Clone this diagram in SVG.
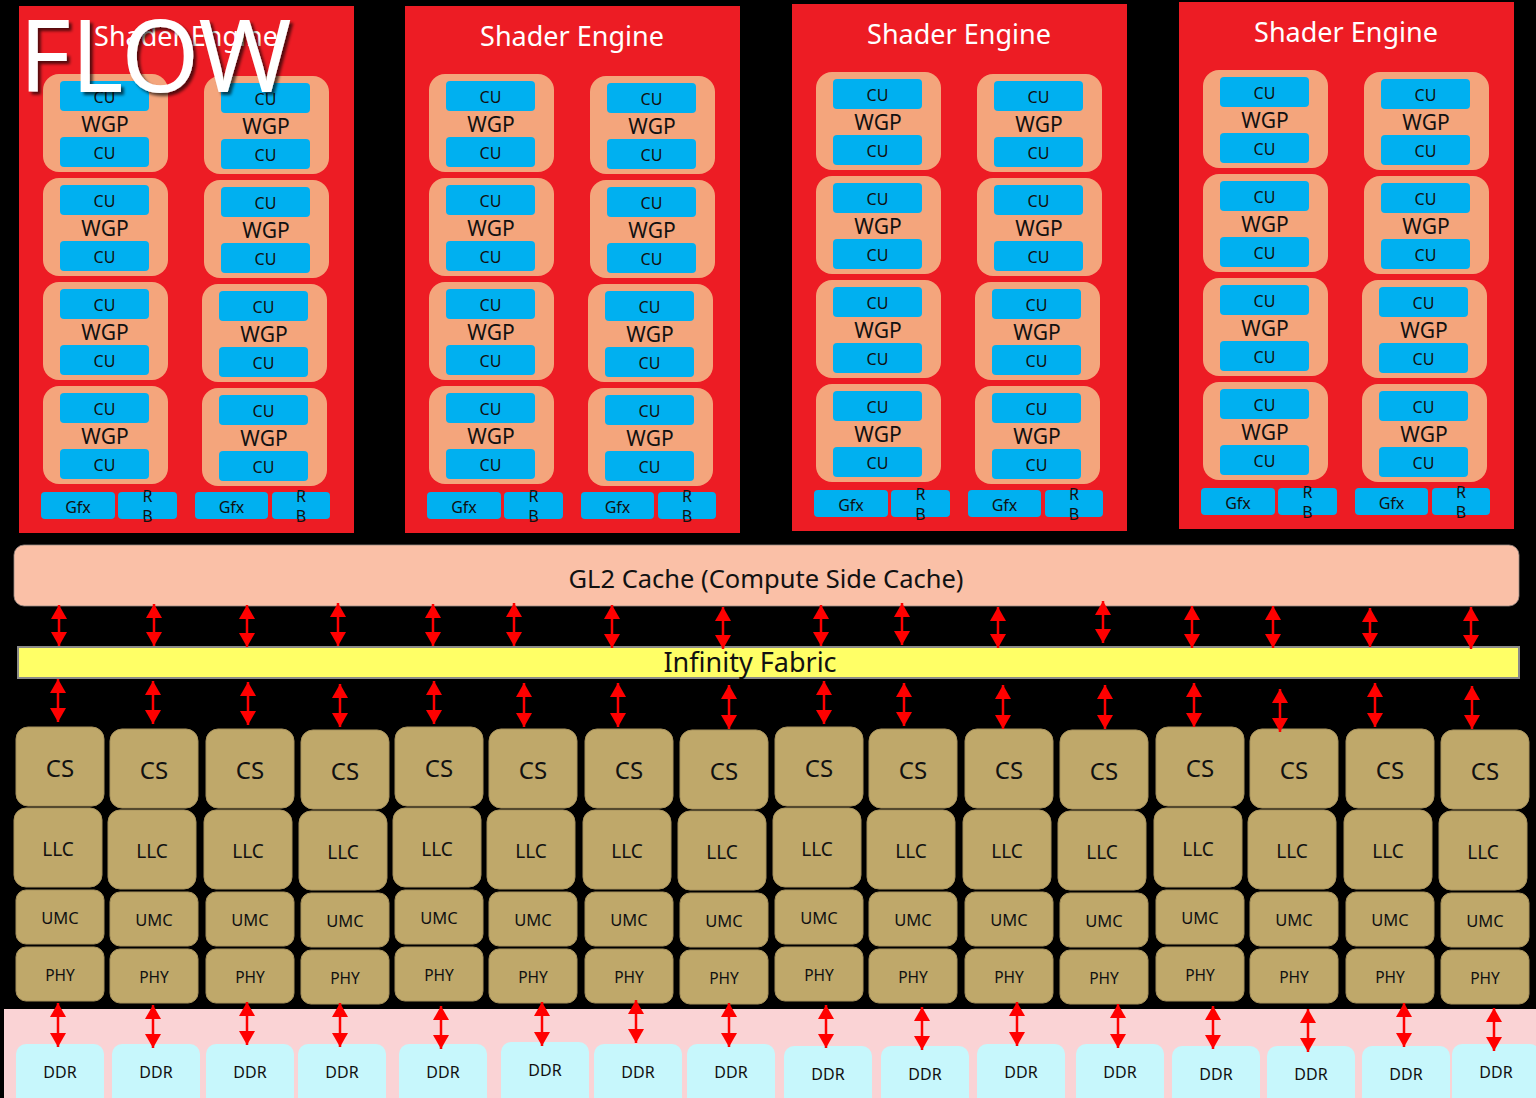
<svg xmlns="http://www.w3.org/2000/svg" width="1536" height="1098" viewBox="0 0 1536 1098">
<style>
text{font-family:"Noto Sans","DejaVu Sans",sans-serif;text-anchor:middle;fill:#111}
.se{fill:#ED1C24}
.wgp{fill:#F4A57C}
.cu{fill:#00B0F0}
.tan{fill:#BFA86A;stroke:#a8925c;stroke-width:1}
.ddr{fill:#C7F7FC}
.title{fill:#fff;font-size:27px}
.wt{font-size:21px}
.ct{font-size:16px}
.cs{font-size:24px}
.llc{font-size:19px}
.umc{font-size:16.5px}
.phy{font-size:15.5px}
.arr{stroke:#FF0000;stroke-width:2.5;fill:none;marker-start:url(#ah);marker-end:url(#ah)}
</style>
<defs>
<marker id="ah" viewBox="0 0 14 16" refX="14" refY="8" markerWidth="14" markerHeight="16" orient="auto-start-reverse" markerUnits="userSpaceOnUse"><path d="M0,0 L14,8 L0,16 Z" fill="#FF0000"/></marker>
<filter id="sh" x="-10%" y="-10%" width="130%" height="140%"><feDropShadow dx="3" dy="3" stdDeviation="1.5" flood-color="#000" flood-opacity="0.65"/></filter>
</defs>
<rect width="1536" height="1098" fill="#000"/>

<!-- Shader Engine 1 -->
<g id="se1">
<rect class="se" x="19" y="6" width="335" height="527"/>
<text class="title" x="186" y="46">Shader Engine</text>
<g id="se1-w1" transform="translate(43,74)"><rect class="wgp" width="125" height="98" rx="16"/><rect class="cu" x="17" y="7" width="89" height="30" rx="4"/><text class="ct" x="61.5" y="29">CU</text><text class="wt" x="62" y="58">WGP</text><rect class="cu" x="17" y="63" width="89" height="30" rx="4"/><text class="ct" x="61.5" y="85">CU</text></g>
<g id="se1-w2" transform="translate(43,178)"><rect class="wgp" width="125" height="98" rx="16"/><rect class="cu" x="17" y="7" width="89" height="30" rx="4"/><text class="ct" x="61.5" y="29">CU</text><text class="wt" x="62" y="58">WGP</text><rect class="cu" x="17" y="63" width="89" height="30" rx="4"/><text class="ct" x="61.5" y="85">CU</text></g>
<g id="se1-w3" transform="translate(43,282)"><rect class="wgp" width="125" height="98" rx="16"/><rect class="cu" x="17" y="7" width="89" height="30" rx="4"/><text class="ct" x="61.5" y="29">CU</text><text class="wt" x="62" y="58">WGP</text><rect class="cu" x="17" y="63" width="89" height="30" rx="4"/><text class="ct" x="61.5" y="85">CU</text></g>
<g id="se1-w4" transform="translate(43,386)"><rect class="wgp" width="125" height="98" rx="16"/><rect class="cu" x="17" y="7" width="89" height="30" rx="4"/><text class="ct" x="61.5" y="29">CU</text><text class="wt" x="62" y="58">WGP</text><rect class="cu" x="17" y="63" width="89" height="30" rx="4"/><text class="ct" x="61.5" y="85">CU</text></g>
<g id="se1-w5" transform="translate(204,76)"><rect class="wgp" width="125" height="98" rx="16"/><rect class="cu" x="17" y="7" width="89" height="30" rx="4"/><text class="ct" x="61.5" y="29">CU</text><text class="wt" x="62" y="58">WGP</text><rect class="cu" x="17" y="63" width="89" height="30" rx="4"/><text class="ct" x="61.5" y="85">CU</text></g>
<g id="se1-w6" transform="translate(204,180)"><rect class="wgp" width="125" height="98" rx="16"/><rect class="cu" x="17" y="7" width="89" height="30" rx="4"/><text class="ct" x="61.5" y="29">CU</text><text class="wt" x="62" y="58">WGP</text><rect class="cu" x="17" y="63" width="89" height="30" rx="4"/><text class="ct" x="61.5" y="85">CU</text></g>
<g id="se1-w7" transform="translate(202,284)"><rect class="wgp" width="125" height="98" rx="16"/><rect class="cu" x="17" y="7" width="89" height="30" rx="4"/><text class="ct" x="61.5" y="29">CU</text><text class="wt" x="62" y="58">WGP</text><rect class="cu" x="17" y="63" width="89" height="30" rx="4"/><text class="ct" x="61.5" y="85">CU</text></g>
<g id="se1-w8" transform="translate(202,388)"><rect class="wgp" width="125" height="98" rx="16"/><rect class="cu" x="17" y="7" width="89" height="30" rx="4"/><text class="ct" x="61.5" y="29">CU</text><text class="wt" x="62" y="58">WGP</text><rect class="cu" x="17" y="63" width="89" height="30" rx="4"/><text class="ct" x="61.5" y="85">CU</text></g>
<g id="se1-gfx1"><rect class="cu" x="41" y="492" width="74" height="27" rx="4"/><text class="ct" x="78" y="513">Gfx</text></g>
<g id="se1-rb1"><rect class="cu" x="118" y="492" width="59" height="27" rx="4"/><text class="ct" x="147.5" y="502">R</text><text class="ct" x="147.5" y="522">B</text></g>
<g id="se1-gfx2"><rect class="cu" x="195" y="492" width="73" height="27" rx="4"/><text class="ct" x="231.5" y="513">Gfx</text></g>
<g id="se1-rb2"><rect class="cu" x="272" y="492" width="58" height="27" rx="4"/><text class="ct" x="301" y="502">R</text><text class="ct" x="301" y="522">B</text></g>
</g>

<!-- Shader Engine 2 -->
<g id="se2">
<rect class="se" x="405" y="6" width="335" height="527"/>
<text class="title" x="572" y="46">Shader Engine</text>
<g id="se2-w1" transform="translate(429,74)"><rect class="wgp" width="125" height="98" rx="16"/><rect class="cu" x="17" y="7" width="89" height="30" rx="4"/><text class="ct" x="61.5" y="29">CU</text><text class="wt" x="62" y="58">WGP</text><rect class="cu" x="17" y="63" width="89" height="30" rx="4"/><text class="ct" x="61.5" y="85">CU</text></g>
<g id="se2-w2" transform="translate(429,178)"><rect class="wgp" width="125" height="98" rx="16"/><rect class="cu" x="17" y="7" width="89" height="30" rx="4"/><text class="ct" x="61.5" y="29">CU</text><text class="wt" x="62" y="58">WGP</text><rect class="cu" x="17" y="63" width="89" height="30" rx="4"/><text class="ct" x="61.5" y="85">CU</text></g>
<g id="se2-w3" transform="translate(429,282)"><rect class="wgp" width="125" height="98" rx="16"/><rect class="cu" x="17" y="7" width="89" height="30" rx="4"/><text class="ct" x="61.5" y="29">CU</text><text class="wt" x="62" y="58">WGP</text><rect class="cu" x="17" y="63" width="89" height="30" rx="4"/><text class="ct" x="61.5" y="85">CU</text></g>
<g id="se2-w4" transform="translate(429,386)"><rect class="wgp" width="125" height="98" rx="16"/><rect class="cu" x="17" y="7" width="89" height="30" rx="4"/><text class="ct" x="61.5" y="29">CU</text><text class="wt" x="62" y="58">WGP</text><rect class="cu" x="17" y="63" width="89" height="30" rx="4"/><text class="ct" x="61.5" y="85">CU</text></g>
<g id="se2-w5" transform="translate(590,76)"><rect class="wgp" width="125" height="98" rx="16"/><rect class="cu" x="17" y="7" width="89" height="30" rx="4"/><text class="ct" x="61.5" y="29">CU</text><text class="wt" x="62" y="58">WGP</text><rect class="cu" x="17" y="63" width="89" height="30" rx="4"/><text class="ct" x="61.5" y="85">CU</text></g>
<g id="se2-w6" transform="translate(590,180)"><rect class="wgp" width="125" height="98" rx="16"/><rect class="cu" x="17" y="7" width="89" height="30" rx="4"/><text class="ct" x="61.5" y="29">CU</text><text class="wt" x="62" y="58">WGP</text><rect class="cu" x="17" y="63" width="89" height="30" rx="4"/><text class="ct" x="61.5" y="85">CU</text></g>
<g id="se2-w7" transform="translate(588,284)"><rect class="wgp" width="125" height="98" rx="16"/><rect class="cu" x="17" y="7" width="89" height="30" rx="4"/><text class="ct" x="61.5" y="29">CU</text><text class="wt" x="62" y="58">WGP</text><rect class="cu" x="17" y="63" width="89" height="30" rx="4"/><text class="ct" x="61.5" y="85">CU</text></g>
<g id="se2-w8" transform="translate(588,388)"><rect class="wgp" width="125" height="98" rx="16"/><rect class="cu" x="17" y="7" width="89" height="30" rx="4"/><text class="ct" x="61.5" y="29">CU</text><text class="wt" x="62" y="58">WGP</text><rect class="cu" x="17" y="63" width="89" height="30" rx="4"/><text class="ct" x="61.5" y="85">CU</text></g>
<g id="se2-gfx1"><rect class="cu" x="427" y="492" width="74" height="27" rx="4"/><text class="ct" x="464" y="513">Gfx</text></g>
<g id="se2-rb1"><rect class="cu" x="504" y="492" width="59" height="27" rx="4"/><text class="ct" x="533.5" y="502">R</text><text class="ct" x="533.5" y="522">B</text></g>
<g id="se2-gfx2"><rect class="cu" x="581" y="492" width="73" height="27" rx="4"/><text class="ct" x="617.5" y="513">Gfx</text></g>
<g id="se2-rb2"><rect class="cu" x="658" y="492" width="58" height="27" rx="4"/><text class="ct" x="687" y="502">R</text><text class="ct" x="687" y="522">B</text></g>
</g>

<!-- Shader Engine 3 -->
<g id="se3">
<rect class="se" x="792" y="4" width="335" height="527"/>
<text class="title" x="959" y="44">Shader Engine</text>
<g id="se3-w1" transform="translate(816,72)"><rect class="wgp" width="125" height="98" rx="16"/><rect class="cu" x="17" y="7" width="89" height="30" rx="4"/><text class="ct" x="61.5" y="29">CU</text><text class="wt" x="62" y="58">WGP</text><rect class="cu" x="17" y="63" width="89" height="30" rx="4"/><text class="ct" x="61.5" y="85">CU</text></g>
<g id="se3-w2" transform="translate(816,176)"><rect class="wgp" width="125" height="98" rx="16"/><rect class="cu" x="17" y="7" width="89" height="30" rx="4"/><text class="ct" x="61.5" y="29">CU</text><text class="wt" x="62" y="58">WGP</text><rect class="cu" x="17" y="63" width="89" height="30" rx="4"/><text class="ct" x="61.5" y="85">CU</text></g>
<g id="se3-w3" transform="translate(816,280)"><rect class="wgp" width="125" height="98" rx="16"/><rect class="cu" x="17" y="7" width="89" height="30" rx="4"/><text class="ct" x="61.5" y="29">CU</text><text class="wt" x="62" y="58">WGP</text><rect class="cu" x="17" y="63" width="89" height="30" rx="4"/><text class="ct" x="61.5" y="85">CU</text></g>
<g id="se3-w4" transform="translate(816,384)"><rect class="wgp" width="125" height="98" rx="16"/><rect class="cu" x="17" y="7" width="89" height="30" rx="4"/><text class="ct" x="61.5" y="29">CU</text><text class="wt" x="62" y="58">WGP</text><rect class="cu" x="17" y="63" width="89" height="30" rx="4"/><text class="ct" x="61.5" y="85">CU</text></g>
<g id="se3-w5" transform="translate(977,74)"><rect class="wgp" width="125" height="98" rx="16"/><rect class="cu" x="17" y="7" width="89" height="30" rx="4"/><text class="ct" x="61.5" y="29">CU</text><text class="wt" x="62" y="58">WGP</text><rect class="cu" x="17" y="63" width="89" height="30" rx="4"/><text class="ct" x="61.5" y="85">CU</text></g>
<g id="se3-w6" transform="translate(977,178)"><rect class="wgp" width="125" height="98" rx="16"/><rect class="cu" x="17" y="7" width="89" height="30" rx="4"/><text class="ct" x="61.5" y="29">CU</text><text class="wt" x="62" y="58">WGP</text><rect class="cu" x="17" y="63" width="89" height="30" rx="4"/><text class="ct" x="61.5" y="85">CU</text></g>
<g id="se3-w7" transform="translate(975,282)"><rect class="wgp" width="125" height="98" rx="16"/><rect class="cu" x="17" y="7" width="89" height="30" rx="4"/><text class="ct" x="61.5" y="29">CU</text><text class="wt" x="62" y="58">WGP</text><rect class="cu" x="17" y="63" width="89" height="30" rx="4"/><text class="ct" x="61.5" y="85">CU</text></g>
<g id="se3-w8" transform="translate(975,386)"><rect class="wgp" width="125" height="98" rx="16"/><rect class="cu" x="17" y="7" width="89" height="30" rx="4"/><text class="ct" x="61.5" y="29">CU</text><text class="wt" x="62" y="58">WGP</text><rect class="cu" x="17" y="63" width="89" height="30" rx="4"/><text class="ct" x="61.5" y="85">CU</text></g>
<g id="se3-gfx1"><rect class="cu" x="814" y="490" width="74" height="27" rx="4"/><text class="ct" x="851" y="511">Gfx</text></g>
<g id="se3-rb1"><rect class="cu" x="891" y="490" width="59" height="27" rx="4"/><text class="ct" x="920.5" y="500">R</text><text class="ct" x="920.5" y="520">B</text></g>
<g id="se3-gfx2"><rect class="cu" x="968" y="490" width="73" height="27" rx="4"/><text class="ct" x="1004.5" y="511">Gfx</text></g>
<g id="se3-rb2"><rect class="cu" x="1045" y="490" width="58" height="27" rx="4"/><text class="ct" x="1074" y="500">R</text><text class="ct" x="1074" y="520">B</text></g>
</g>

<!-- Shader Engine 4 -->
<g id="se4">
<rect class="se" x="1179" y="2" width="335" height="527"/>
<text class="title" x="1346" y="42">Shader Engine</text>
<g id="se4-w1" transform="translate(1203,70)"><rect class="wgp" width="125" height="98" rx="16"/><rect class="cu" x="17" y="7" width="89" height="30" rx="4"/><text class="ct" x="61.5" y="29">CU</text><text class="wt" x="62" y="58">WGP</text><rect class="cu" x="17" y="63" width="89" height="30" rx="4"/><text class="ct" x="61.5" y="85">CU</text></g>
<g id="se4-w2" transform="translate(1203,174)"><rect class="wgp" width="125" height="98" rx="16"/><rect class="cu" x="17" y="7" width="89" height="30" rx="4"/><text class="ct" x="61.5" y="29">CU</text><text class="wt" x="62" y="58">WGP</text><rect class="cu" x="17" y="63" width="89" height="30" rx="4"/><text class="ct" x="61.5" y="85">CU</text></g>
<g id="se4-w3" transform="translate(1203,278)"><rect class="wgp" width="125" height="98" rx="16"/><rect class="cu" x="17" y="7" width="89" height="30" rx="4"/><text class="ct" x="61.5" y="29">CU</text><text class="wt" x="62" y="58">WGP</text><rect class="cu" x="17" y="63" width="89" height="30" rx="4"/><text class="ct" x="61.5" y="85">CU</text></g>
<g id="se4-w4" transform="translate(1203,382)"><rect class="wgp" width="125" height="98" rx="16"/><rect class="cu" x="17" y="7" width="89" height="30" rx="4"/><text class="ct" x="61.5" y="29">CU</text><text class="wt" x="62" y="58">WGP</text><rect class="cu" x="17" y="63" width="89" height="30" rx="4"/><text class="ct" x="61.5" y="85">CU</text></g>
<g id="se4-w5" transform="translate(1364,72)"><rect class="wgp" width="125" height="98" rx="16"/><rect class="cu" x="17" y="7" width="89" height="30" rx="4"/><text class="ct" x="61.5" y="29">CU</text><text class="wt" x="62" y="58">WGP</text><rect class="cu" x="17" y="63" width="89" height="30" rx="4"/><text class="ct" x="61.5" y="85">CU</text></g>
<g id="se4-w6" transform="translate(1364,176)"><rect class="wgp" width="125" height="98" rx="16"/><rect class="cu" x="17" y="7" width="89" height="30" rx="4"/><text class="ct" x="61.5" y="29">CU</text><text class="wt" x="62" y="58">WGP</text><rect class="cu" x="17" y="63" width="89" height="30" rx="4"/><text class="ct" x="61.5" y="85">CU</text></g>
<g id="se4-w7" transform="translate(1362,280)"><rect class="wgp" width="125" height="98" rx="16"/><rect class="cu" x="17" y="7" width="89" height="30" rx="4"/><text class="ct" x="61.5" y="29">CU</text><text class="wt" x="62" y="58">WGP</text><rect class="cu" x="17" y="63" width="89" height="30" rx="4"/><text class="ct" x="61.5" y="85">CU</text></g>
<g id="se4-w8" transform="translate(1362,384)"><rect class="wgp" width="125" height="98" rx="16"/><rect class="cu" x="17" y="7" width="89" height="30" rx="4"/><text class="ct" x="61.5" y="29">CU</text><text class="wt" x="62" y="58">WGP</text><rect class="cu" x="17" y="63" width="89" height="30" rx="4"/><text class="ct" x="61.5" y="85">CU</text></g>
<g id="se4-gfx1"><rect class="cu" x="1201" y="488" width="74" height="27" rx="4"/><text class="ct" x="1238" y="509">Gfx</text></g>
<g id="se4-rb1"><rect class="cu" x="1278" y="488" width="59" height="27" rx="4"/><text class="ct" x="1307.5" y="498">R</text><text class="ct" x="1307.5" y="518">B</text></g>
<g id="se4-gfx2"><rect class="cu" x="1355" y="488" width="73" height="27" rx="4"/><text class="ct" x="1391.5" y="509">Gfx</text></g>
<g id="se4-rb2"><rect class="cu" x="1432" y="488" width="58" height="27" rx="4"/><text class="ct" x="1461" y="498">R</text><text class="ct" x="1461" y="518">B</text></g>
</g>

<!-- GL2 cache and Infinity Fabric -->
<g id="gl2"><rect x="14" y="545" width="1505" height="61" rx="10" fill="#FAC0A7" stroke="#9a8a84" stroke-width="0.8"/><text x="766" y="588" style="font-size:25.5px">GL2 Cache (Compute Side Cache)</text></g>
<g id="infinity-fabric"><rect x="18" y="647" width="1501" height="31" fill="#FFFF66" stroke="#8a8a8a" stroke-width="2"/><text x="750" y="672" style="font-size:27px">Infinity Fabric</text></g>

<!-- Memory band -->
<rect id="memory-band" x="4" y="1009" width="1532" height="89" fill="#FAD3D5"/>

<!-- Columns CS/LLC/UMC/PHY -->
<g id="col1" transform="translate(60,0)"><rect class="tan" x="-44" y="727" width="88" height="79" rx="12"/><text class="cs" x="0" y="777">CS</text><rect class="tan" x="-46" y="808" width="88" height="79" rx="12"/><text class="llc" x="-2" y="856">LLC</text><rect class="tan" x="-44" y="890" width="88" height="54" rx="10"/><text class="umc" x="0" y="924">UMC</text><rect class="tan" x="-44" y="947" width="88" height="54" rx="10"/><text class="phy" x="0" y="981">PHY</text></g>
<g id="col2" transform="translate(154,2)"><rect class="tan" x="-44" y="727" width="88" height="79" rx="12"/><text class="cs" x="0" y="777">CS</text><rect class="tan" x="-46" y="808" width="88" height="79" rx="12"/><text class="llc" x="-2" y="856">LLC</text><rect class="tan" x="-44" y="890" width="88" height="54" rx="10"/><text class="umc" x="0" y="924">UMC</text><rect class="tan" x="-44" y="947" width="88" height="54" rx="10"/><text class="phy" x="0" y="981">PHY</text></g>
<g id="col3" transform="translate(250,2)"><rect class="tan" x="-44" y="727" width="88" height="79" rx="12"/><text class="cs" x="0" y="777">CS</text><rect class="tan" x="-46" y="808" width="88" height="79" rx="12"/><text class="llc" x="-2" y="856">LLC</text><rect class="tan" x="-44" y="890" width="88" height="54" rx="10"/><text class="umc" x="0" y="924">UMC</text><rect class="tan" x="-44" y="947" width="88" height="54" rx="10"/><text class="phy" x="0" y="981">PHY</text></g>
<g id="col4" transform="translate(345,3)"><rect class="tan" x="-44" y="727" width="88" height="79" rx="12"/><text class="cs" x="0" y="777">CS</text><rect class="tan" x="-46" y="808" width="88" height="79" rx="12"/><text class="llc" x="-2" y="856">LLC</text><rect class="tan" x="-44" y="890" width="88" height="54" rx="10"/><text class="umc" x="0" y="924">UMC</text><rect class="tan" x="-44" y="947" width="88" height="54" rx="10"/><text class="phy" x="0" y="981">PHY</text></g>
<g id="col5" transform="translate(439,0)"><rect class="tan" x="-44" y="727" width="88" height="79" rx="12"/><text class="cs" x="0" y="777">CS</text><rect class="tan" x="-46" y="808" width="88" height="79" rx="12"/><text class="llc" x="-2" y="856">LLC</text><rect class="tan" x="-44" y="890" width="88" height="54" rx="10"/><text class="umc" x="0" y="924">UMC</text><rect class="tan" x="-44" y="947" width="88" height="54" rx="10"/><text class="phy" x="0" y="981">PHY</text></g>
<g id="col6" transform="translate(533,2)"><rect class="tan" x="-44" y="727" width="88" height="79" rx="12"/><text class="cs" x="0" y="777">CS</text><rect class="tan" x="-46" y="808" width="88" height="79" rx="12"/><text class="llc" x="-2" y="856">LLC</text><rect class="tan" x="-44" y="890" width="88" height="54" rx="10"/><text class="umc" x="0" y="924">UMC</text><rect class="tan" x="-44" y="947" width="88" height="54" rx="10"/><text class="phy" x="0" y="981">PHY</text></g>
<g id="col7" transform="translate(629,2)"><rect class="tan" x="-44" y="727" width="88" height="79" rx="12"/><text class="cs" x="0" y="777">CS</text><rect class="tan" x="-46" y="808" width="88" height="79" rx="12"/><text class="llc" x="-2" y="856">LLC</text><rect class="tan" x="-44" y="890" width="88" height="54" rx="10"/><text class="umc" x="0" y="924">UMC</text><rect class="tan" x="-44" y="947" width="88" height="54" rx="10"/><text class="phy" x="0" y="981">PHY</text></g>
<g id="col8" transform="translate(724,3)"><rect class="tan" x="-44" y="727" width="88" height="79" rx="12"/><text class="cs" x="0" y="777">CS</text><rect class="tan" x="-46" y="808" width="88" height="79" rx="12"/><text class="llc" x="-2" y="856">LLC</text><rect class="tan" x="-44" y="890" width="88" height="54" rx="10"/><text class="umc" x="0" y="924">UMC</text><rect class="tan" x="-44" y="947" width="88" height="54" rx="10"/><text class="phy" x="0" y="981">PHY</text></g>
<g id="col9" transform="translate(819,0)"><rect class="tan" x="-44" y="727" width="88" height="79" rx="12"/><text class="cs" x="0" y="777">CS</text><rect class="tan" x="-46" y="808" width="88" height="79" rx="12"/><text class="llc" x="-2" y="856">LLC</text><rect class="tan" x="-44" y="890" width="88" height="54" rx="10"/><text class="umc" x="0" y="924">UMC</text><rect class="tan" x="-44" y="947" width="88" height="54" rx="10"/><text class="phy" x="0" y="981">PHY</text></g>
<g id="col10" transform="translate(913,2)"><rect class="tan" x="-44" y="727" width="88" height="79" rx="12"/><text class="cs" x="0" y="777">CS</text><rect class="tan" x="-46" y="808" width="88" height="79" rx="12"/><text class="llc" x="-2" y="856">LLC</text><rect class="tan" x="-44" y="890" width="88" height="54" rx="10"/><text class="umc" x="0" y="924">UMC</text><rect class="tan" x="-44" y="947" width="88" height="54" rx="10"/><text class="phy" x="0" y="981">PHY</text></g>
<g id="col11" transform="translate(1009,2)"><rect class="tan" x="-44" y="727" width="88" height="79" rx="12"/><text class="cs" x="0" y="777">CS</text><rect class="tan" x="-46" y="808" width="88" height="79" rx="12"/><text class="llc" x="-2" y="856">LLC</text><rect class="tan" x="-44" y="890" width="88" height="54" rx="10"/><text class="umc" x="0" y="924">UMC</text><rect class="tan" x="-44" y="947" width="88" height="54" rx="10"/><text class="phy" x="0" y="981">PHY</text></g>
<g id="col12" transform="translate(1104,3)"><rect class="tan" x="-44" y="727" width="88" height="79" rx="12"/><text class="cs" x="0" y="777">CS</text><rect class="tan" x="-46" y="808" width="88" height="79" rx="12"/><text class="llc" x="-2" y="856">LLC</text><rect class="tan" x="-44" y="890" width="88" height="54" rx="10"/><text class="umc" x="0" y="924">UMC</text><rect class="tan" x="-44" y="947" width="88" height="54" rx="10"/><text class="phy" x="0" y="981">PHY</text></g>
<g id="col13" transform="translate(1200,0)"><rect class="tan" x="-44" y="727" width="88" height="79" rx="12"/><text class="cs" x="0" y="777">CS</text><rect class="tan" x="-46" y="808" width="88" height="79" rx="12"/><text class="llc" x="-2" y="856">LLC</text><rect class="tan" x="-44" y="890" width="88" height="54" rx="10"/><text class="umc" x="0" y="924">UMC</text><rect class="tan" x="-44" y="947" width="88" height="54" rx="10"/><text class="phy" x="0" y="981">PHY</text></g>
<g id="col14" transform="translate(1294,2)"><rect class="tan" x="-44" y="727" width="88" height="79" rx="12"/><text class="cs" x="0" y="777">CS</text><rect class="tan" x="-46" y="808" width="88" height="79" rx="12"/><text class="llc" x="-2" y="856">LLC</text><rect class="tan" x="-44" y="890" width="88" height="54" rx="10"/><text class="umc" x="0" y="924">UMC</text><rect class="tan" x="-44" y="947" width="88" height="54" rx="10"/><text class="phy" x="0" y="981">PHY</text></g>
<g id="col15" transform="translate(1390,2)"><rect class="tan" x="-44" y="727" width="88" height="79" rx="12"/><text class="cs" x="0" y="777">CS</text><rect class="tan" x="-46" y="808" width="88" height="79" rx="12"/><text class="llc" x="-2" y="856">LLC</text><rect class="tan" x="-44" y="890" width="88" height="54" rx="10"/><text class="umc" x="0" y="924">UMC</text><rect class="tan" x="-44" y="947" width="88" height="54" rx="10"/><text class="phy" x="0" y="981">PHY</text></g>
<g id="col16" transform="translate(1485,3)"><rect class="tan" x="-44" y="727" width="88" height="79" rx="12"/><text class="cs" x="0" y="777">CS</text><rect class="tan" x="-46" y="808" width="88" height="79" rx="12"/><text class="llc" x="-2" y="856">LLC</text><rect class="tan" x="-44" y="890" width="88" height="54" rx="10"/><text class="umc" x="0" y="924">UMC</text><rect class="tan" x="-44" y="947" width="88" height="54" rx="10"/><text class="phy" x="0" y="981">PHY</text></g>

<!-- DDR -->
<g id="ddr1"><rect class="ddr" x="16" y="1044" width="88" height="70" rx="10"/><text class="ct" x="60" y="1078">DDR</text></g>
<g id="ddr2"><rect class="ddr" x="112" y="1044" width="88" height="70" rx="10"/><text class="ct" x="156" y="1078">DDR</text></g>
<g id="ddr3"><rect class="ddr" x="206" y="1044" width="88" height="70" rx="10"/><text class="ct" x="250" y="1078">DDR</text></g>
<g id="ddr4"><rect class="ddr" x="298" y="1044" width="88" height="70" rx="10"/><text class="ct" x="342" y="1078">DDR</text></g>
<g id="ddr5"><rect class="ddr" x="399" y="1044" width="88" height="70" rx="10"/><text class="ct" x="443" y="1078">DDR</text></g>
<g id="ddr6"><rect class="ddr" x="501" y="1042" width="88" height="70" rx="10"/><text class="ct" x="545" y="1076">DDR</text></g>
<g id="ddr7"><rect class="ddr" x="594" y="1044" width="88" height="70" rx="10"/><text class="ct" x="638" y="1078">DDR</text></g>
<g id="ddr8"><rect class="ddr" x="687" y="1044" width="88" height="70" rx="10"/><text class="ct" x="731" y="1078">DDR</text></g>
<g id="ddr9"><rect class="ddr" x="784" y="1046" width="88" height="70" rx="10"/><text class="ct" x="828" y="1080">DDR</text></g>
<g id="ddr10"><rect class="ddr" x="881" y="1046" width="88" height="70" rx="10"/><text class="ct" x="925" y="1080">DDR</text></g>
<g id="ddr11"><rect class="ddr" x="977" y="1044" width="88" height="70" rx="10"/><text class="ct" x="1021" y="1078">DDR</text></g>
<g id="ddr12"><rect class="ddr" x="1076" y="1044" width="88" height="70" rx="10"/><text class="ct" x="1120" y="1078">DDR</text></g>
<g id="ddr13"><rect class="ddr" x="1172" y="1046" width="88" height="70" rx="10"/><text class="ct" x="1216" y="1080">DDR</text></g>
<g id="ddr14"><rect class="ddr" x="1267" y="1046" width="88" height="70" rx="10"/><text class="ct" x="1311" y="1080">DDR</text></g>
<g id="ddr15"><rect class="ddr" x="1362" y="1046" width="88" height="70" rx="10"/><text class="ct" x="1406" y="1080">DDR</text></g>
<g id="ddr16"><rect class="ddr" x="1452" y="1044" width="88" height="70" rx="10"/><text class="ct" x="1496" y="1078">DDR</text></g>

<!-- Connectors -->
<g id="connectors">
<line class="arr" x1="59" y1="605" x2="59" y2="646"/>
<line class="arr" x1="154" y1="604" x2="154" y2="646"/>
<line class="arr" x1="247" y1="605" x2="247" y2="647"/>
<line class="arr" x1="338" y1="603" x2="338" y2="646"/>
<line class="arr" x1="433" y1="604" x2="433" y2="646"/>
<line class="arr" x1="514" y1="603" x2="514" y2="646"/>
<line class="arr" x1="612" y1="605" x2="612" y2="648"/>
<line class="arr" x1="723" y1="607" x2="723" y2="649"/>
<line class="arr" x1="821" y1="605" x2="821" y2="646"/>
<line class="arr" x1="902" y1="603" x2="902" y2="645"/>
<line class="arr" x1="998" y1="607" x2="998" y2="648"/>
<line class="arr" x1="1103" y1="601" x2="1103" y2="643"/>
<line class="arr" x1="1192" y1="606" x2="1192" y2="648"/>
<line class="arr" x1="1273" y1="606" x2="1273" y2="648"/>
<line class="arr" x1="1370" y1="608" x2="1370" y2="647"/>
<line class="arr" x1="1471" y1="607" x2="1471" y2="649"/>

<line class="arr" x1="58" y1="679" x2="58" y2="722"/>
<line class="arr" x1="153" y1="681" x2="153" y2="724"/>
<line class="arr" x1="248" y1="682" x2="248" y2="725"/>
<line class="arr" x1="340" y1="684" x2="340" y2="727"/>
<line class="arr" x1="434" y1="681" x2="434" y2="724"/>
<line class="arr" x1="524" y1="683" x2="524" y2="727"/>
<line class="arr" x1="618" y1="683" x2="618" y2="727"/>
<line class="arr" x1="729" y1="685" x2="729" y2="729"/>
<line class="arr" x1="824" y1="681" x2="824" y2="724"/>
<line class="arr" x1="904" y1="683" x2="904" y2="726"/>
<line class="arr" x1="1003" y1="685" x2="1003" y2="729"/>
<line class="arr" x1="1105" y1="685" x2="1105" y2="729"/>
<line class="arr" x1="1194" y1="683" x2="1194" y2="727"/>
<line class="arr" x1="1280" y1="689" x2="1280" y2="732"/>
<line class="arr" x1="1375" y1="683" x2="1375" y2="727"/>
<line class="arr" x1="1472" y1="686" x2="1472" y2="729"/>

<line class="arr" x1="58" y1="1003" x2="58" y2="1047"/>
<line class="arr" x1="153" y1="1005" x2="153" y2="1048"/>
<line class="arr" x1="247" y1="1002" x2="247" y2="1045"/>
<line class="arr" x1="340" y1="1003" x2="340" y2="1047"/>
<line class="arr" x1="441" y1="1006" x2="441" y2="1049"/>
<line class="arr" x1="542" y1="1002" x2="542" y2="1046"/>
<line class="arr" x1="636" y1="1000" x2="636" y2="1043"/>
<line class="arr" x1="729" y1="1003" x2="729" y2="1047"/>
<line class="arr" x1="826" y1="1005" x2="826" y2="1048"/>
<line class="arr" x1="922" y1="1007" x2="922" y2="1050"/>
<line class="arr" x1="1017" y1="1002" x2="1017" y2="1046"/>
<line class="arr" x1="1118" y1="1004" x2="1118" y2="1048"/>
<line class="arr" x1="1213" y1="1006" x2="1213" y2="1049"/>
<line class="arr" x1="1308" y1="1009" x2="1308" y2="1052"/>
<line class="arr" x1="1404" y1="1003" x2="1404" y2="1047"/>
<line class="arr" x1="1494" y1="1008" x2="1494" y2="1051"/>
</g>

<!-- FLOW overlay -->
<text id="flow" x="19" y="92" filter="url(#sh)" style="font-size:100px;fill:#fff;text-anchor:start">FLOW</text>
</svg>
